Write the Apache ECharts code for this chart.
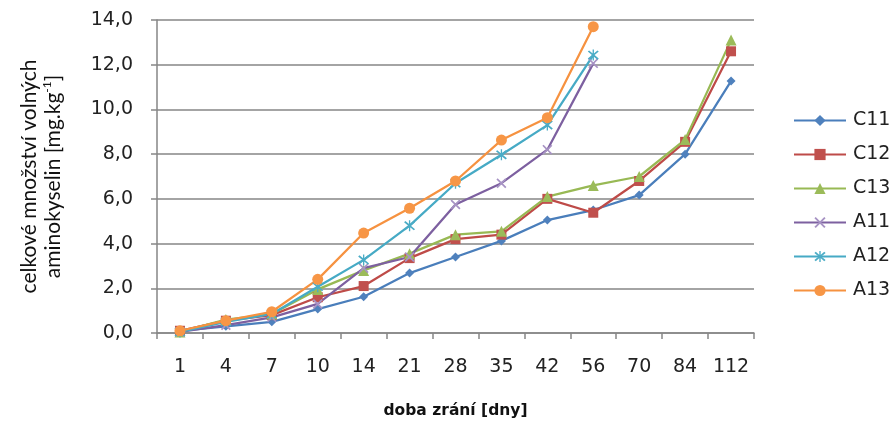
<!DOCTYPE html>
<html><head><meta charset="utf-8">
<script src="https://cdn.jsdelivr.net/npm/echarts@6/dist/echarts.min.js"></script>
<style>html,body{margin:0;padding:0;background:#fff}#c{width:896px;height:427px}</style>
</head><body><div id="c"></div>
<script>
var categories = ['1','4','7','10','14','21','28','35','42','56','70','84','112'];
var seriesNames = ['C11','C12','C13','A11','A12','A13'];
var C11 = [0.10,0.30,0.50,1.07,1.62,2.68,3.40,4.12,5.05,5.50,6.17,8.00,11.27];
var C12 = [0.10,0.55,0.80,1.60,2.10,3.35,4.20,4.40,6.00,5.38,6.80,8.55,12.60];
var C13 = [0.05,0.60,0.85,1.95,2.80,3.55,4.40,4.55,6.10,6.60,7.00,8.65,13.10];
var A11 = [0.05,0.35,0.70,1.30,2.90,3.40,5.75,6.70,8.20,12.06,null,null,null];
var A12 = [0.05,0.50,0.85,2.07,3.27,4.80,6.70,7.97,9.30,12.43,null,null,null];
var A13 = [0.10,0.55,0.95,2.40,4.47,5.58,6.80,8.63,9.63,13.70,null,null,null];
var yTicks = {min:0, max:14, interval:2};

var lineColors = ['#4A7EBB','#BE4B48','#98B954','#7D60A0','#46AAC5','#F69240'];
var markColors = ['#4F81BD','#C0504D','#9BBB59','#A793C4','#4BACC6','#F79646'];
var xPath = 'path://M0,1.2L1.2,0L5,3.8L8.8,0L10,1.2L6.2,5L10,8.8L8.8,10L5,6.2L1.2,10L0,8.8L3.8,5Z';
var starPath = 'path://M0,1.2L1.2,0L5,3.8L8.8,0L10,1.2L6.2,5L10,8.8L8.8,10L5,6.2L1.2,10L0,8.8L3.8,5Z M4.4,-1L5.6,-1L5.6,11L4.4,11Z';
var symbols = ['diamond','rect','triangle',xPath,starPath,'circle'];
var sizes = [9,10,11,10,11,11];
var dataArr = [C11,C12,C13,A11,A12,A13];

var font = 'DejaVu Sans';
var series = seriesNames.map(function(n,i){
  return {
    name:n, type:'line', data:dataArr[i], symbol:symbols[i], symbolSize:sizes[i],
    showAllSymbol:true, connectNulls:false,
    lineStyle:{color:lineColors[i], width:2.25},
    itemStyle:{color:markColors[i], borderWidth:0},
    emphasis:{disabled:true}, animation:false
  };
});

var chart = echarts.init(document.getElementById('c'), null, {renderer:'canvas'});
chart.setOption({
  animation:false,
  backgroundColor:'#ffffff',
  grid:{left:157, right:142, top:20, bottom:94, containLabel:false},
  legend:{
    orient:'vertical', left:793, top:111, padding:0, itemWidth:52, itemHeight:14, itemGap:15,
    textStyle:{fontFamily:font, fontSize:19, color:'#222', padding:[0,0,0,2]},
    data:seriesNames
  },
  xAxis:{
    type:'category', data:categories, boundaryGap:true,
    name:'doba zrání [dny]', nameLocation:'middle', nameGap:70,
    nameTextStyle:{fontFamily:font, fontSize:15.5, fontWeight:'bold', color:'#111'},
    axisLine:{lineStyle:{color:'#868686', width:1.5}},
    axisTick:{show:true, length:6, interval:0, alignWithLabel:false, lineStyle:{color:'#868686', width:1.5}},
    axisLabel:{margin:25, interval:0, fontFamily:font, fontSize:19, color:'#222'},
    splitLine:{show:false}
  },
  yAxis:{
    type:'value', min:yTicks.min, max:yTicks.max, interval:yTicks.interval,
    name:'{a|celkové množství volných}\n{a|aminokyselin [mg.kg}{s|-1}{a|]}',
    nameLocation:'middle', nameGap:92, nameRotate:90,
    nameTextStyle:{fontFamily:'Lato', color:'#111',
      rich:{a:{fontFamily:'Lato', fontSize:21, color:'#111', lineHeight:24},
            s:{fontFamily:'Lato', fontSize:12, color:'#111', verticalAlign:'top', lineHeight:24}}},
    axisLine:{show:true, lineStyle:{color:'#868686', width:1.5}},
    axisTick:{show:true, length:6, lineStyle:{color:'#868686', width:1.5}},
    axisLabel:{margin:24, fontFamily:font, fontSize:19, color:'#222',
      formatter:function(v){return v.toFixed(1).replace('.',',');}},
    splitLine:{show:true, lineStyle:{color:'#868686', width:1.5}}
  },
  series:series
});
</script></body></html>
